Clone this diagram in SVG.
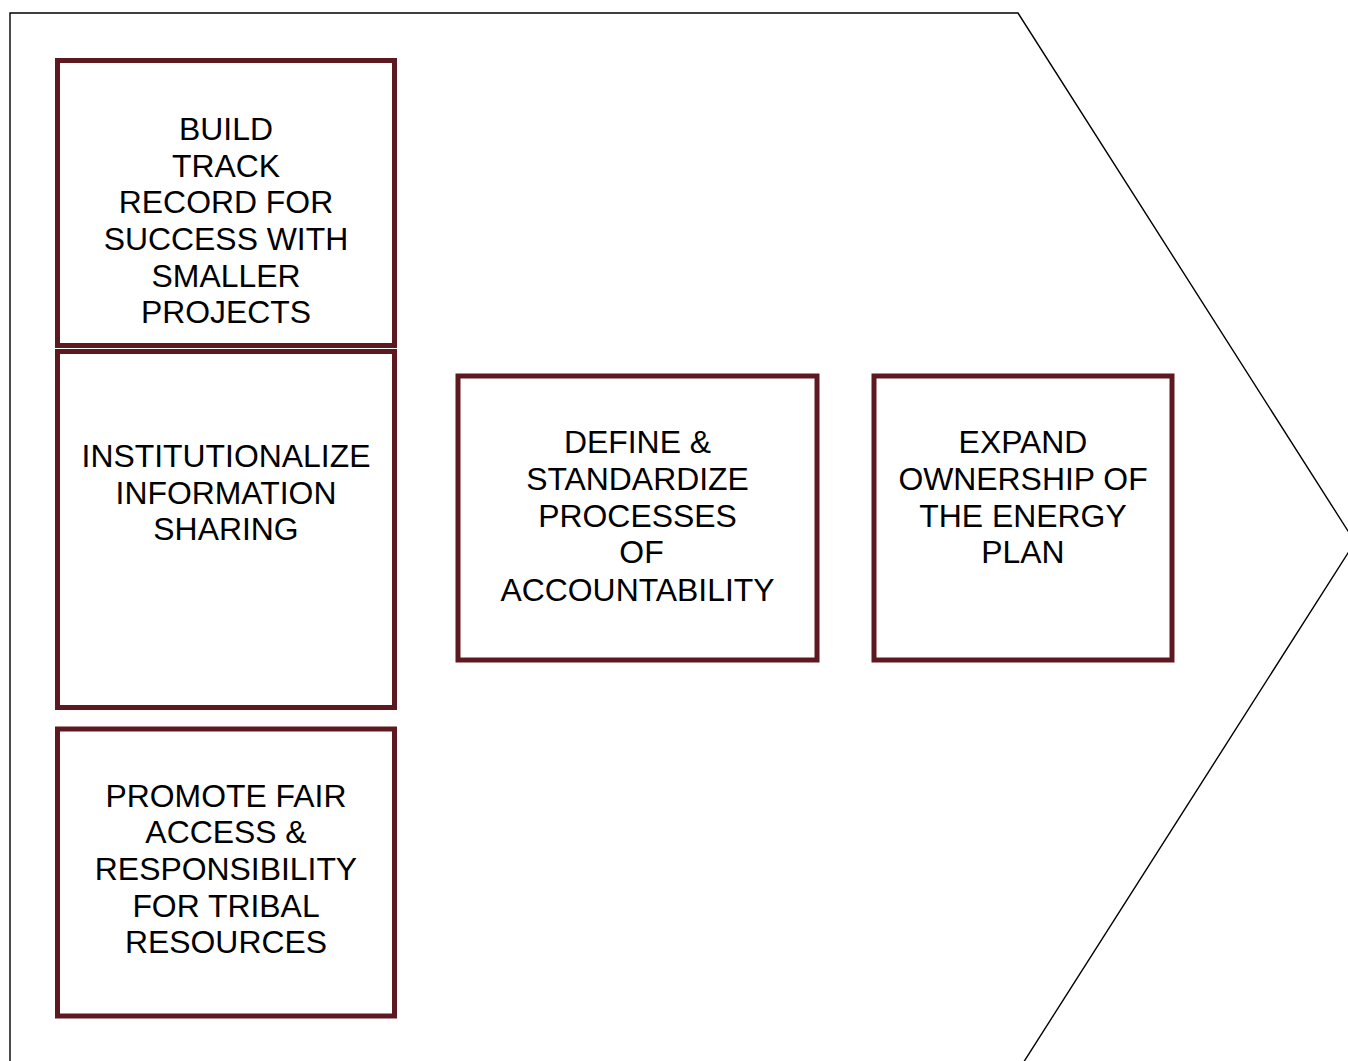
<svg xmlns="http://www.w3.org/2000/svg" width="1348" height="1061" viewBox="0 0 1348 1061">
<style>
.box{fill:#ffffff;stroke:#5e1820;stroke-width:5}
.lbl{font-family:"Liberation Sans",Arial,sans-serif;font-size:31.9px;fill:#000000;text-anchor:middle}
.outline{fill:none;stroke:#000000;stroke-width:1.4}
</style>
<rect width="1348" height="1061" fill="#ffffff"/>
<g id="chevron">
<path class="outline" d="M10,1070 L10,13 L1018,13 L1355,542 L1018,1071"/>
</g>
<g id="connectors"></g>
<g id="node-build">
<rect class="box" x="57.5" y="60.5" width="337" height="285"/>
<text class="lbl" x="226" y="140">BUILD</text>
<text class="lbl" x="226" y="176.7">TRACK</text>
<text class="lbl" x="226" y="213.3">RECORD FOR</text>
<text class="lbl" x="226" y="250">SUCCESS WITH</text>
<text class="lbl" x="226" y="286.7">SMALLER</text>
<text class="lbl" x="226" y="323.3">PROJECTS</text>
</g>
<g id="node-institutionalize">
<rect class="box" x="57.5" y="351.5" width="337" height="356"/>
<text class="lbl" x="226" y="467">INSTITUTIONALIZE</text>
<text class="lbl" x="226" y="503.5">INFORMATION</text>
<text class="lbl" x="226" y="540">SHARING</text>
</g>
<g id="node-promote">
<rect class="box" x="57.5" y="729" width="337" height="287"/>
<text class="lbl" x="226" y="806.7">PROMOTE FAIR</text>
<text class="lbl" x="226" y="843.3">ACCESS &amp;</text>
<text class="lbl" x="226" y="880">RESPONSIBILITY</text>
<text class="lbl" x="226" y="916.7">FOR TRIBAL</text>
<text class="lbl" x="226" y="953.3">RESOURCES</text>
</g>
<g id="node-define">
<rect class="box" x="458" y="376" width="359" height="284"/>
<text class="lbl" x="637.5" y="453.3">DEFINE &amp;</text>
<text class="lbl" x="637.5" y="490">STANDARDIZE</text>
<text class="lbl" x="637.5" y="526.7">PROCESSES</text>
<text class="lbl" x="641.5" y="563.3">OF</text>
<text class="lbl" x="637.5" y="600.5">ACCOUNTABILITY</text>
</g>
<g id="node-expand">
<rect class="box" x="874" y="376" width="298" height="284"/>
<text class="lbl" x="1023" y="453.3">EXPAND</text>
<text class="lbl" x="1023" y="490">OWNERSHIP OF</text>
<text class="lbl" x="1023" y="526.7">THE ENERGY</text>
<text class="lbl" x="1023" y="563.3">PLAN</text>
</g>
</svg>
